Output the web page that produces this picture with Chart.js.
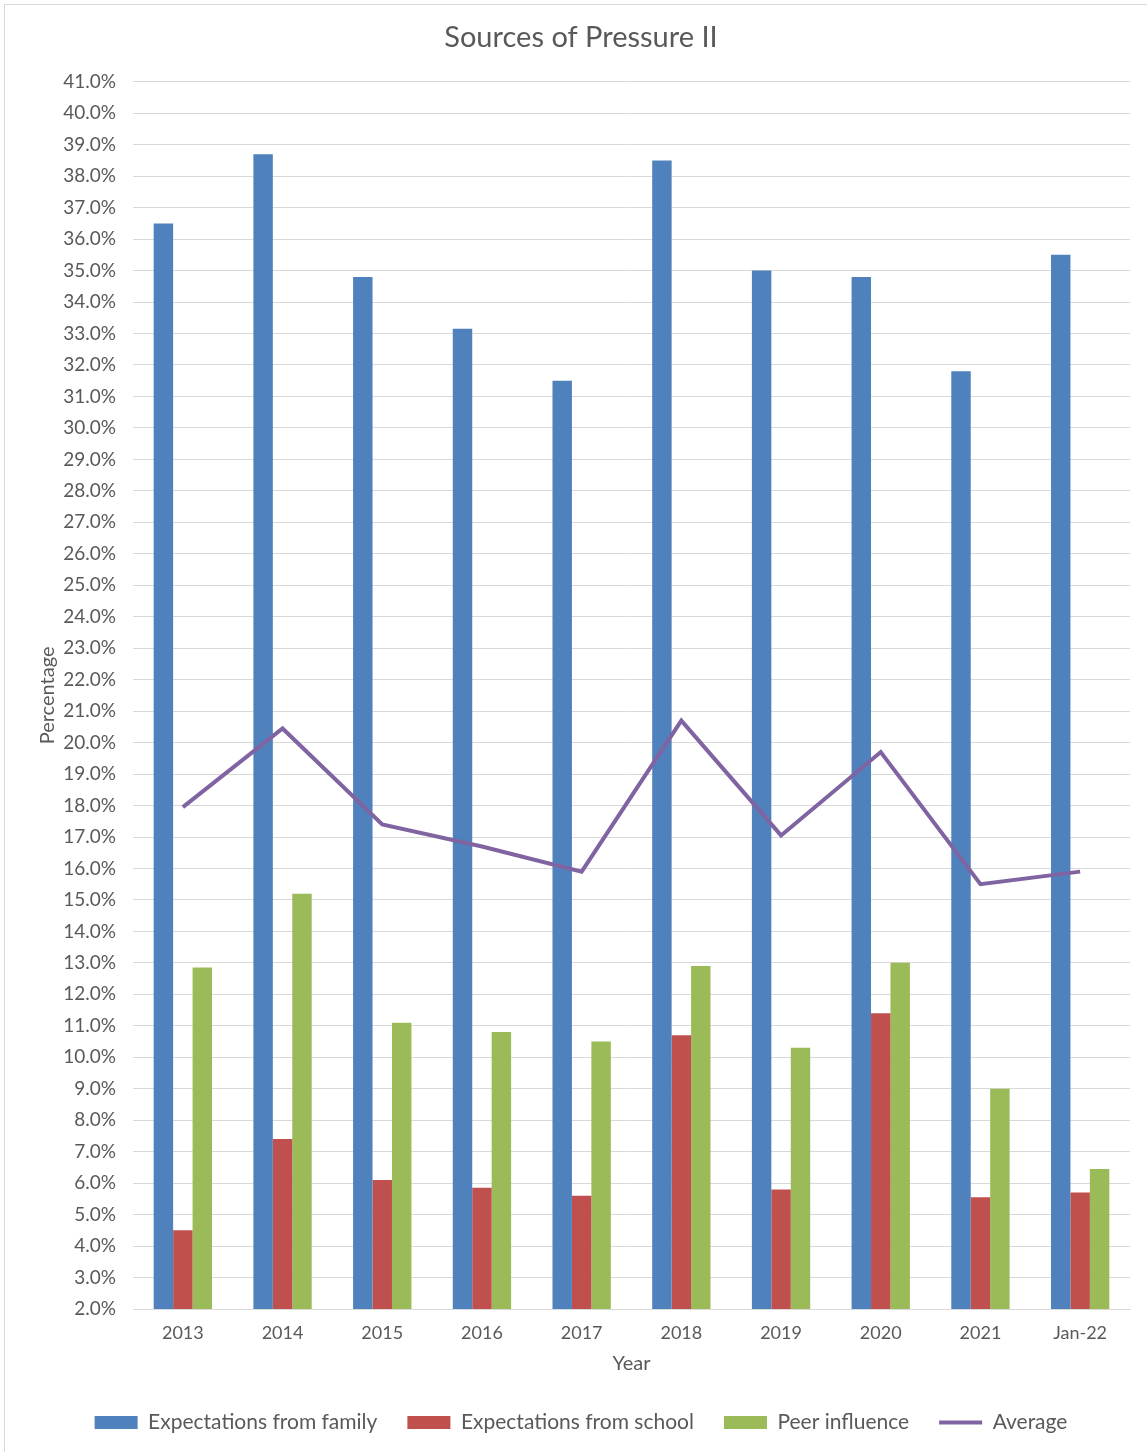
<!DOCTYPE html>
<html>
<head>
<meta charset="utf-8">
<title>Sources of Pressure II</title>
<script src="https://cdn.jsdelivr.net/npm/chart.js@4.4.1/dist/chart.umd.min.js"></script>
<style>
html,body{margin:0;padding:0;background:#fff;overflow:hidden;}
#box{position:absolute;left:4px;top:4px;width:1160px;height:1520px;border-left:1px solid #d9d9d9;border-top:1px solid #d9d9d9;}
#box canvas{position:absolute;left:0;top:0;}
</style>
</head>
<body>
<div id="box"><canvas id="pressureChart" width="1142" height="1438"></canvas></div>
<script>
const years=["2013","2014","2015","2016","2017","2018","2019","2020","2021","Jan-22"];
const family=[36.5,38.7,34.8,33.15,31.5,38.5,35.0,34.8,31.8,35.5];
const school=[4.5,7.4,6.1,5.85,5.6,10.7,5.8,11.4,5.55,5.7];
const peer=[12.85,15.2,11.1,10.8,10.5,12.9,10.3,13.0,9.0,6.45];
const average=[17.95,20.45,17.4,16.7,15.9,20.7,17.05,19.7,15.5,15.9];

const grey="#595959";
const font="Lato";

new Chart(document.getElementById("pressureChart"),{
    type:"bar",
    data:{
        labels:years,
        datasets:[
            {label:"Expectations from family",data:family,backgroundColor:"#4f81bd"},
            {label:"Expectations from school",data:school,backgroundColor:"#c0504d"},
            {label:"Peer influence",data:peer,backgroundColor:"#9bbb59"},
            // order -1 keeps the average line painted over the bars
            {label:"Average",type:"line",data:average,borderColor:"#8064a2",backgroundColor:"#8064a2",
             borderWidth:4,pointRadius:0,tension:0,order:-1}
        ]
    },
    options:{
        responsive:false,
        animation:false,
        categoryPercentage:0.585,
        barPercentage:1,
        layout:{padding:{left:27,right:17,top:0,bottom:0}},
        plugins:{
            title:{display:true,text:"Sources of Pressure II",color:grey,
                font:{family:font,size:29,weight:"normal"},padding:{top:15,bottom:27}},
            legend:{
                position:"bottom",
                labels:{
                    color:grey,font:{family:font,size:21},
                    usePointStyle:true,pointStyleWidth:43,boxHeight:13,padding:30,
                    generateLabels:chart=>chart.data.datasets.map((d,i)=>({
                        text:d.label,
                        fillStyle:d.backgroundColor,
                        strokeStyle:d.type==="line"?d.borderColor:d.backgroundColor,
                        lineWidth:d.type==="line"?4:0,
                        pointStyle:d.type==="line"?"line":"rect",
                        fontColor:grey,
                        hidden:false,
                        datasetIndex:i
                    }))
                }
            },
            tooltip:{enabled:false}
        },
        scales:{
            x:{
                grid:{display:false,drawTicks:false},
                border:{color:"#d9d9d9"},
                ticks:{color:grey,font:{family:font,size:18},padding:13},
                title:{display:true,text:"Year",color:grey,font:{family:font,size:20},padding:{top:9,bottom:6}},
                afterFit:s=>{s.height=73;}
            },
            y:{
                min:2,max:41,
                grid:{color:"#d9d9d9",drawTicks:false},
                border:{display:false},
                ticks:{stepSize:1,color:grey,font:{family:font,size:19},padding:17,
                    callback:v=>v.toFixed(1)+"%"},
                title:{display:true,text:"Percentage",color:grey,font:{family:font,size:20},padding:4},
                afterFit:s=>{s.width=101;}
            }
        }
    }
});
</script>
</body>
</html>
